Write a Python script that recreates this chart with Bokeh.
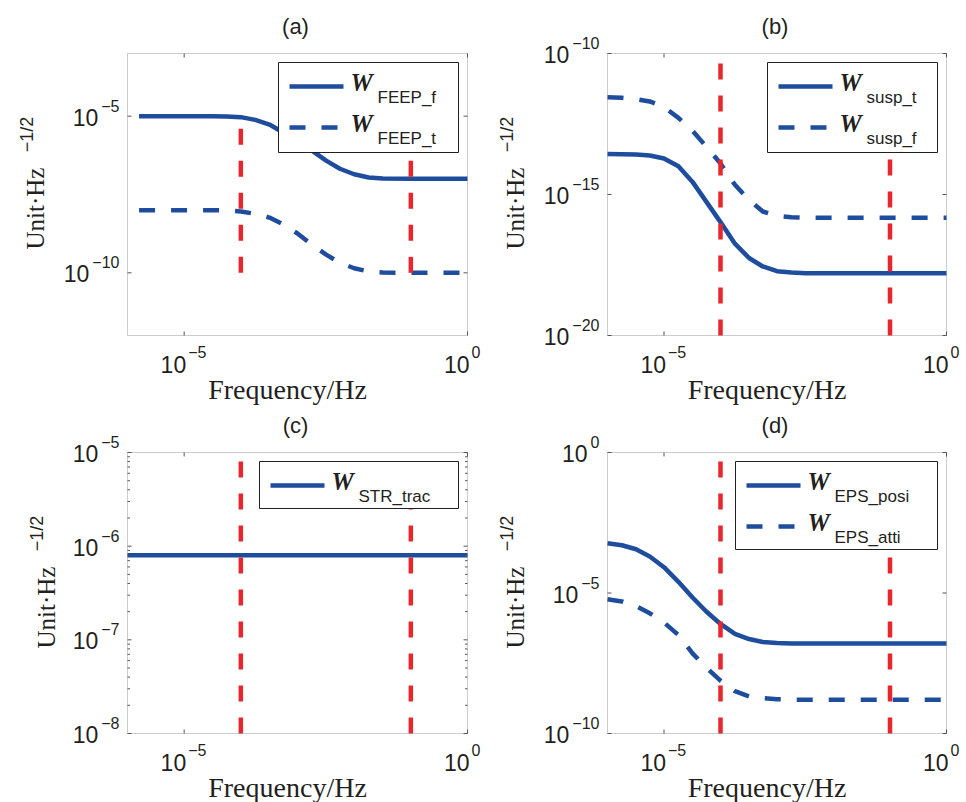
import math
from bokeh.plotting import figure
from bokeh.models import Range1d, Label, BoxAnnotation
from bokeh.layouts import column, row
from bokeh.embed import file_html
from bokeh.resources import INLINE

# ------------------------------------------------------------------ data
freq = [1e-6, 1.8e-6, 3.2e-6, 5.6e-6, 1e-5, 1.8e-5, 3.2e-5, 5.6e-5, 1e-4, 1.8e-4,
        3.2e-4, 5.6e-4, 1e-3, 1.8e-3, 3.2e-3, 5.6e-3, 1e-2, 1.8e-2, 3.2e-2, 1e-1, 1.0]
freq_a = [1.6e-6, 3.2e-6, 5.6e-6, 1e-5, 1.8e-5, 3.2e-5, 5.6e-5, 1e-4, 1.8e-4, 3.2e-4,
          5.6e-4, 1e-3, 1.8e-3, 3.2e-3, 5.6e-3, 1e-2, 1.8e-2, 3.2e-2, 1e-1, 1.0]
freq_c = [1e-6, 1.0]

W_FEEP_f = [1.0e-5, 1.0e-5, 1.0e-5, 1.0e-5, 1.0e-5, 1.0e-5, 9.8e-6, 9.3e-6, 7.6e-6, 5.4e-6,
            3.0e-6, 1.5e-6, 7.9e-7, 3.8e-7, 2.1e-7, 1.4e-7, 1.1e-7, 1.02e-7, 1.0e-7, 1.0e-7]
W_FEEP_t = [1.0e-8, 1.0e-8, 1.0e-8, 1.0e-8, 1.0e-8, 1.0e-8, 9.8e-9, 9.1e-9, 7.6e-9, 5.8e-9,
            3.5e-9, 1.8e-9, 7.9e-10, 3.8e-10, 2.1e-10, 1.4e-10, 1.1e-10, 1.02e-10, 1.0e-10, 1.0e-10]

W_susp_t = [2.75e-14, 2.7e-14, 2.6e-14, 2.4e-14, 1.9e-14, 1.0e-14, 2.8e-15, 5.6e-16, 1.05e-16, 1.8e-17,
            5.6e-18, 2.8e-18, 1.9e-18, 1.7e-18, 1.6e-18, 1.6e-18, 1.6e-18, 1.6e-18, 1.6e-18, 1.6e-18, 1.6e-18]
W_susp_f = [2.8e-12, 2.7e-12, 2.4e-12, 2.0e-12, 1.26e-12, 5.2e-13, 1.8e-13, 5.0e-14, 1.26e-14, 2.2e-15,
            6.3e-16, 2.5e-16, 1.74e-16, 1.55e-16, 1.5e-16, 1.5e-16, 1.5e-16, 1.5e-16, 1.5e-16, 1.5e-16, 1.5e-16]

W_STR_trac = [8.0e-7, 8.0e-7]

W_EPS_posi = [5.9e-4, 5.0e-4, 3.6e-4, 2.0e-4, 8.3e-5, 2.5e-5, 6.9e-6, 2.2e-6, 7.9e-7, 3.5e-7,
              2.3e-7, 1.8e-7, 1.66e-7, 1.6e-7, 1.6e-7, 1.6e-7, 1.6e-7, 1.6e-7, 1.6e-7, 1.6e-7, 1.6e-7]
W_EPS_atti = [6.0e-6, 5.0e-6, 3.4e-6, 1.9e-6, 8.9e-7, 3.2e-7, 7.1e-8, 2.2e-8, 7.6e-9, 3.2e-9,
              2.1e-9, 1.8e-9, 1.66e-9, 1.6e-9, 1.6e-9, 1.6e-9, 1.6e-9, 1.6e-9, 1.6e-9, 1.6e-9, 1.6e-9]

# vertical marker lines (frequencies) and their vertical extent per panel
vline_freqs = [1e-4, 1e-1]
vspan_a = [1e-10, 1e-5]
vspan_b = [1e-20, 1e-10]
vspan_c = [1e-8, 1e-5]
vspan_d = [1e-10, 1e0]

# axes ticks / labels
x_range_all = [1e-6, 1.0]
x_ticks = [1e-5, 1.0]
x_tick_exp = ["\u22125", "0"]

yrange_a = [1e-12, 1e-3]
yticks_a = [1e-5, 1e-10]
yexp_a = ["\u22125", "\u221210"]
yrange_b = [1e-20, 1e-10]
yticks_b = [1e-10, 1e-15, 1e-20]
yexp_b = ["\u221210", "\u221215", "\u221220"]
yrange_c = [1e-8, 1e-5]
yticks_c = [1e-5, 1e-6, 1e-7, 1e-8]
yexp_c = ["\u22125", "\u22126", "\u22127", "\u22128"]
yrange_d = [1e-10, 1e0]
yticks_d = [1e0, 1e-5, 1e-10]
yexp_d = ["0", "\u22125", "\u221210"]

titles = ["(a)", "(b)", "(c)", "(d)"]
x_label = "Frequency/Hz"
y_label = "Unit\u00b7Hz"
y_label_sup = "\u22121/2"

# ------------------------------------------------------------------ style
SANS = "Liberation Sans"
SERIF = "Liberation Serif"
BLUE = "#1e4d9e"
RED = "#e8262b"
INK = "#231f20"
FRAME = "#555555"
LW_BLUE = 4.5
LW_RED = 4.5
DASH = "16 16"
TICK_MAJOR = 4
TICK_MINOR = 2.5
EXP_SIZE = 16


def exp_width(s, size):
    w = 0.0
    for ch in s:
        w += 0.584 if ch == "\u2212" else 0.556
    return w * size


def make_panel(spec):
    x0, x1 = x_range_all
    y0, y1 = spec["yrange"]
    fw, fh = spec["fw"], spec["fh"]
    bl, br, bt, bb = spec["bl"], spec["br"], spec["bt"], spec["bb"]
    W, H = bl + fw + br, bt + fh + bb

    lx0, lx1 = math.log10(x0), math.log10(x1)
    ly0, ly1 = math.log10(y0), math.log10(y1)
    kx = (lx1 - lx0) / fw
    ky = (ly1 - ly0) / fh

    # the whole figure is the plotting frame; the axes box sits inside it
    p = figure(x_axis_type="log", y_axis_type="log",
               x_range=Range1d(10 ** (lx0 - bl * kx), 10 ** (lx1 + br * kx)),
               y_range=Range1d(10 ** (ly0 - bb * ky), 10 ** (ly1 + bt * ky)),
               frame_width=W, frame_height=H,
               min_border=0, x_axis_location=None, y_axis_location=None,
               toolbar_location=None, output_backend="svg")
    p.outline_line_color = None
    p.xgrid.visible = False
    p.ygrid.visible = False
    p.background_fill_color = "white"
    p.border_fill_color = "white"

    def xd(dx):  # pixel offset from box left -> data
        return 10 ** (lx0 + dx * kx)

    def yd(dy):  # pixel offset from box top -> data
        return 10 ** (ly1 - dy * ky)

    def lab(x, y, text, size, font=SANS, align="center", dx=0, dy=0, angle=0.0, style="normal"):
        p.add_layout(Label(x=x, y=y, x_offset=dx, y_offset=dy, text=text, angle=angle,
                           text_align=align, text_baseline="middle",
                           text_font=font, text_font_size=f"{size}px",
                           text_font_style=style, text_color=INK))

    # curves
    for xs, ys, dash in spec["series"]:
        p.line(xs, ys, line_color=BLUE, line_width=LW_BLUE,
               line_dash=(DASH if dash else "solid"))
    for f in vline_freqs:
        p.line([f, f], spec["vspan"], line_color=RED, line_width=LW_RED, line_dash=DASH)

    # axes box
    p.add_layout(BoxAnnotation(left=x0, right=x1, bottom=y0, top=y1,
                               fill_alpha=0.0, line_color=FRAME, line_width=1))
    # ticks (inside, mirrored on all four sides)
    sx0, sy0, sx1, sy1 = [], [], [], []
    for t in x_ticks:
        sx0 += [t, t]; sx1 += [t, t]
        sy0 += [y0, y1]; sy1 += [yd(fh - TICK_MAJOR), yd(TICK_MAJOR)]
    for t in spec["yticks"]:
        sy0 += [t, t]; sy1 += [t, t]
        sx0 += [x0, x1]; sx1 += [xd(TICK_MAJOR), xd(fw - TICK_MAJOR)]
    for t in spec.get("yminor", []):
        sy0 += [t, t]; sy1 += [t, t]
        sx0 += [x0, x1]; sx1 += [xd(TICK_MINOR), xd(fw - TICK_MINOR)]
    p.segment(x0=sx0, y0=sy0, x1=sx1, y1=sy1, line_color=FRAME, line_width=1, level="annotation")

    # x tick labels: "10" + raised exponent
    for t, e in zip(x_ticks, x_tick_exp):
        lab(t, y0, "10", 23, align="right", dx=2, dy=-28.5)
        lab(t, y0, e, EXP_SIZE, align="left", dx=4, dy=-16)
    # y tick labels
    for t, e in zip(spec["yticks"], spec["yexp"]):
        ew = exp_width(e, EXP_SIZE)
        lab(x0, t, e, EXP_SIZE, align="right", dx=-8, dy=10.5)
        lab(x0, t, "10", 23, align="right", dx=-8 - ew - 3, dy=-1)

    # title
    lab(xd(fw / 2 - 2), y1, spec["title"], 22, dy=27)
    # x axis label
    lab(xd(fw / 2 - 10), y0, x_label, 28, font=SERIF, dy=-54)
    # y axis label with its separate superscript
    lab(x0, yd(155), y_label, 25, font=SERIF, dx=spec["ylab_dx"], angle=math.pi / 2)
    lab(x0, yd(81), y_label_sup, 18, dx=spec["ylab_dx"] - 9, angle=math.pi / 2)

    # legend
    lw, lh = spec["leg_w"], spec["leg_h"]
    L = fw - 9 - lw
    T = 9
    p.add_layout(BoxAnnotation(left=xd(L), right=xd(L + lw), top=yd(T), bottom=yd(T + lh),
                               fill_color="white", fill_alpha=1.0,
                               line_color=INK, line_width=1, line_alpha=1.0))
    for i, (sub, dash) in enumerate(spec["legend"]):
        ry = T + 24 + 41 * i
        p.line([xd(L + 11), xd(L + 65)], [yd(ry), yd(ry)], line_color=BLUE,
               line_width=LW_BLUE, line_dash=(DASH if dash else "solid"), level="overlay")
        lab(xd(L + 72), yd(ry - 4.5), "W", 25, font=SERIF, align="left", style="bold italic")
        lab(xd(L + 99), yd(ry + 11), sub, 17, align="left")
    return p


c_minor = [m * 10.0 ** k for k in (-8, -7, -6) for m in range(2, 10)]

specs = [
    dict(title=titles[0], yrange=yrange_a, yticks=yticks_a, yexp=yexp_a,
         fw=340, fh=282, bl=127, br=16, bt=53, bb=70, ylab_dx=-92,
         series=[(freq_a, W_FEEP_f, False), (freq_a, W_FEEP_t, True)], vspan=vspan_a,
         legend=[("FEEP_f", False), ("FEEP_t", True)], leg_w=180, leg_h=90),
    dict(title=titles[1], yrange=yrange_b, yticks=yticks_b, yexp=yexp_b,
         fw=339, fh=282, bl=124, br=20, bt=53, bb=70, ylab_dx=-92,
         series=[(freq, W_susp_t, False), (freq, W_susp_f, True)], vspan=vspan_b,
         legend=[("susp_t", False), ("susp_f", True)], leg_w=170, leg_h=90),
    dict(title=titles[2], yrange=yrange_c, yticks=yticks_c, yexp=yexp_c, yminor=c_minor,
         fw=340, fh=281, bl=127, br=16, bt=47, bb=69, ylab_dx=-81.5,
         series=[(freq_c, W_STR_trac, False)], vspan=vspan_c,
         legend=[("STR_trac", False)], leg_w=199, leg_h=47),
    dict(title=titles[3], yrange=yrange_d, yticks=yticks_d, yexp=yexp_d,
         fw=339, fh=281, bl=124, br=20, bt=47, bb=69, ylab_dx=-92,
         series=[(freq, W_EPS_posi, False), (freq, W_EPS_atti, True)], vspan=vspan_d,
         legend=[("EPS_posi", False), ("EPS_atti", True)], leg_w=202, leg_h=88),
]

figs = [make_panel(s) for s in specs]
layout = column(row(figs[0], figs[1]), row(figs[2], figs[3]))

open("out.html", "w").write(file_html(layout, INLINE))
